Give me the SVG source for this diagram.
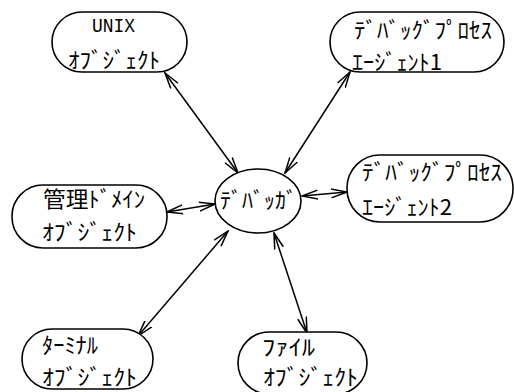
<svg xmlns="http://www.w3.org/2000/svg" width="514" height="392" viewBox="0 0 514 392">
  <style>
    .node { fill: #fff; stroke: #000; stroke-width: 1.6; }
    .lbl { font-family: "Noto Sans CJK JP", "DejaVu Sans", sans-serif; font-size: 22px; fill: #000; }
    .mono { font-family: "Liberation Mono", monospace; font-size: 21px; fill: #000; }
    .conn { stroke: #000; stroke-width: 1.5; fill: none; marker-start: url(#head); marker-end: url(#head); }
  </style>
  <defs>
    <marker id="head" markerUnits="userSpaceOnUse" markerWidth="17" markerHeight="12" refX="16" refY="5" orient="auto-start-reverse" viewBox="0 0 17 10">
      <path d="M0,0.5 L16,5 L0,9.5" fill="none" stroke="#000" stroke-width="1.5"/>
    </marker>
  </defs>
  <rect width="514" height="392" fill="#fff"/>

  <g id="connectors">
    <line class="conn" x1="165" y1="73" x2="238" y2="173"/>
    <line class="conn" x1="350" y1="72" x2="285" y2="173"/>
    <line class="conn" x1="167" y1="212" x2="215" y2="204"/>
    <line class="conn" x1="302" y1="196" x2="347" y2="192"/>
    <line class="conn" x1="138" y1="336" x2="228" y2="231"/>
    <line class="conn" x1="274" y1="233" x2="307" y2="333"/>
  </g>

  <g id="unix">
    <rect class="node" x="52" y="12" width="135" height="60" rx="30"/>
    <text class="mono" x="92" y="32" textLength="43" lengthAdjust="spacingAndGlyphs">UNIX</text>
    <text class="lbl" x="68" y="68" textLength="92" lengthAdjust="spacingAndGlyphs">ｵﾌﾞｼﾞｪｸﾄ</text>
  </g>

  <g id="agent1">
    <rect class="node" x="330" y="12" width="174" height="60" rx="30"/>
    <text class="lbl" x="354" y="38" textLength="138" lengthAdjust="spacingAndGlyphs">ﾃﾞﾊﾞｯｸﾞﾌﾟﾛｾｽ</text>
    <text class="lbl" x="352" y="70" textLength="90" lengthAdjust="spacingAndGlyphs">ｴｰｼﾞｪﾝﾄ1</text>
  </g>

  <g id="agent2">
    <rect class="node" x="347" y="155" width="166" height="67" rx="33"/>
    <text class="lbl" x="362" y="180" textLength="140" lengthAdjust="spacingAndGlyphs">ﾃﾞﾊﾞｯｸﾞﾌﾟﾛｾｽ</text>
    <text class="lbl" x="362" y="215" textLength="90" lengthAdjust="spacingAndGlyphs">ｴｰｼﾞｪﾝﾄ2</text>
  </g>

  <g id="debugger">
    <ellipse class="node" cx="258" cy="201" rx="43" ry="32"/>
    <text class="lbl" x="220" y="208" textLength="77" lengthAdjust="spacingAndGlyphs">ﾃﾞﾊﾞｯｶﾞ</text>
  </g>

  <g id="domain">
    <rect class="node" x="12" y="185" width="155" height="63" rx="31"/>
    <text class="lbl" x="43" y="207" textLength="102" lengthAdjust="spacingAndGlyphs">管理ﾄﾞﾒｲﾝ</text>
    <text class="lbl" x="42" y="240" textLength="95" lengthAdjust="spacingAndGlyphs">ｵﾌﾞｼﾞｪｸﾄ</text>
  </g>

  <g id="terminal">
    <rect class="node" x="22" y="329" width="131" height="60" rx="30"/>
    <text class="lbl" x="42" y="353" textLength="56" lengthAdjust="spacingAndGlyphs">ﾀｰﾐﾅﾙ</text>
    <text class="lbl" x="42" y="385" textLength="95" lengthAdjust="spacingAndGlyphs">ｵﾌﾞｼﾞｪｸﾄ</text>
  </g>

  <g id="file">
    <rect class="node" x="238" y="332" width="129" height="62" rx="31"/>
    <text class="lbl" x="262" y="355" textLength="53" lengthAdjust="spacingAndGlyphs">ﾌｧｲﾙ</text>
    <text class="lbl" x="263" y="385" textLength="95" lengthAdjust="spacingAndGlyphs">ｵﾌﾞｼﾞｪｸﾄ</text>
  </g>
</svg>
